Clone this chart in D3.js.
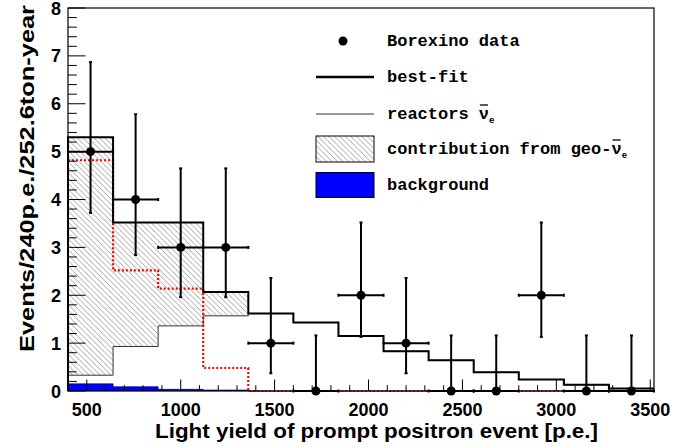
<!DOCTYPE html>
<html>
<head>
<meta charset="utf-8">
<script src="https://cdn.jsdelivr.net/npm/d3@7"></script>
<style>
  html, body { margin: 0; padding: 0; background: #fff; }
  svg { display: block; }
</style>
</head>
<body>
<svg id="chart" width="694" height="447"></svg>
<script>
// ---------------- DATA ----------------
const binEdges = [400, 640, 880, 1120, 1360, 1600, 1840, 2080, 2320, 2560, 2800, 3040, 3280, 3520];
const binCenters = [520, 760, 1000, 1240, 1480, 1720, 1960, 2200, 2440, 2680, 2920, 3160, 3400];
const dataCounts = [5, 4, 3, 3, 1, 0, 2, 1, 0, 0, 2, 0, 0];
const dataErrLow  = [3.72, 2.84, 1.96, 1.96, 0.37, 0, 1.13, 0.37, 0, 0, 1.13, 0, 0];
const dataErrHigh = [6.87, 5.78, 4.65, 4.65, 2.36, 1.16, 3.52, 2.36, 1.16, 1.16, 3.52, 1.16, 1.16];
const bestFit   = [5.30, 3.52, 3.52, 2.07, 1.62, 1.43, 1.15, 0.83, 0.64, 0.39, 0.24, 0.13, 0.05];
const reactors  = [0.33, 0.93, 1.36, 1.57, 1.62, 1.43, 1.15, 0.83, 0.64, 0.39, 0.24, 0.13, 0.05];
const geoOnly   = [4.82, 2.52, 2.14, 0.48, 0, 0, 0, 0, 0, 0, 0, 0, 0];
const background= [0.15, 0.09, 0.035, 0.02, 0, 0, 0, 0, 0, 0, 0, 0, 0];
const geoBins = 4; // hatched contribution spans first 4 bins
const xTicks = [500, 1000, 1500, 2000, 2500, 3000, 3500];
const yTicks = [0, 1, 2, 3, 4, 5, 6, 7, 8];
const legendLabels = ["Borexino data", "best-fit", "reactors ", "contribution from geo-", "background"];
const xTitle = "Light yield of prompt positron event [p.e.]";
const yTitle = "Events/240p.e./252.6ton-year";

// ---------------- SETUP ----------------
const svg = d3.select("#chart");
const L = 68, R = 654, T = 8, B = 391;
const x = d3.scaleLinear().domain([400, 3520]).range([L, R]);
const y = d3.scaleLinear().domain([0, 8]).range([B, T]);
const sansBold = "'Liberation Sans', Arial, Helvetica, sans-serif";
const mono = "'Liberation Mono', 'Courier New', monospace";

const defs = svg.append("defs");
const pat = defs.append("pattern").attr("id", "hatch")
  .attr("patternUnits", "userSpaceOnUse").attr("width", 5.5).attr("height", 5.5);
pat.append("path").attr("d", "M0,0 L5.5,5.5 M-1,4.5 L1,6.5 M4.5,-1 L6.5,1")
  .attr("stroke", "#999").attr("stroke-width", 0.9).attr("fill", "none");

function stepPts(vals) {
  return binEdges.map((e, i) => [e, vals[Math.min(i, vals.length - 1)]]);
}
const stepLine = d3.line().x(d => x(d[0])).y(d => y(d[1])).curve(d3.curveStepAfter);

// ---------------- HATCHED geo contribution ----------------
const geoPts = binEdges.slice(0, geoBins + 1).map((e, i) => ({
  e, lo: reactors[Math.min(i, geoBins - 1)], hi: bestFit[Math.min(i, geoBins - 1)]
}));
svg.append("path")
  .attr("d", d3.area().x(d => x(d.e)).y0(d => y(d.lo)).y1(d => y(d.hi)).curve(d3.curveStepAfter)(geoPts))
  .attr("fill", "url(#hatch)").attr("stroke", "none");

// ---------------- background (blue) ----------------
svg.append("path")
  .attr("d", d3.area().x(d => x(d[0])).y0(y(0)).y1(d => y(d[1])).curve(d3.curveStepAfter)(stepPts(background)))
  .attr("fill", "#0000ff").attr("stroke", "none");
svg.append("path")
  .attr("d", stepLine(stepPts(background)))
  .attr("fill", "none").attr("stroke", "#000").attr("stroke-width", 1).attr("opacity", 0.6);

// ---------------- reactor thin line ----------------
svg.append("path")
  .attr("d", stepLine([[binEdges[0], 0]].concat(stepPts(reactors))))
  .attr("fill", "none").attr("stroke", "#333").attr("stroke-width", 1);

// ---------------- geo red dotted ----------------
svg.append("path")
  .attr("d", stepLine(stepPts(geoOnly)))
  .attr("fill", "none").attr("stroke", "#ff0000").attr("stroke-width", 2.2)
  .attr("stroke-dasharray", "2,2");

// ---------------- best-fit ----------------
svg.append("path")
  .attr("d", stepLine([[binEdges[0], 0]].concat(stepPts(bestFit))))
  .attr("fill", "none").attr("stroke", "#000").attr("stroke-width", 2);

// ---------------- axes ----------------
const ax = svg.append("g").attr("stroke", "#000").attr("stroke-width", 1);
svg.append("rect").attr("x", L).attr("y", T).attr("width", R - L).attr("height", B - T)
  .attr("fill", "none").attr("stroke", "#000").attr("stroke-width", 1.2);
const yMinor = d3.range(0, 8.001, 0.2);
yMinor.forEach(v => {
  const isMajor = Math.abs(v - Math.round(v)) < 1e-6;
  ax.append("line").attr("x1", L).attr("x2", L + (isMajor ? 17.5 : 8.8))
    .attr("y1", y(v)).attr("y2", y(v));
});
const xMinor = d3.range(400, 3521, 100);
xMinor.forEach(v => {
  const isMajor = v % 500 === 0;
  ax.append("line").attr("x1", x(v)).attr("x2", x(v))
    .attr("y1", B).attr("y2", B - (isMajor ? 11.5 : 5.8));
});
svg.append("g").selectAll("text").data(yTicks).join("text")
  .attr("x", 61).attr("y", d => y(d) + 6.5)
  .attr("text-anchor", "end").attr("font-family", sansBold).attr("font-weight", "bold")
  .attr("font-size", 18).text(d => d);
svg.append("g").selectAll("text").data(xTicks).join("text")
  .attr("x", d => x(d)).attr("y", 416)
  .attr("text-anchor", "middle").attr("font-family", sansBold).attr("font-weight", "bold")
  .attr("font-size", 18).text(d => d);
// titles
svg.append("text").attr("x", 155).attr("y", 438).attr("text-anchor", "start")
  .attr("textLength", 443).attr("lengthAdjust", "spacingAndGlyphs")
  .attr("font-family", sansBold).attr("font-weight", "bold").attr("font-size", 20).text(xTitle);
svg.append("text").attr("transform", "translate(34,352) rotate(-90)").attr("text-anchor", "start")
  .attr("textLength", 347).attr("lengthAdjust", "spacingAndGlyphs")
  .attr("font-family", sansBold).attr("font-weight", "bold").attr("font-size", 20).text(yTitle);

// ---------------- data points ----------------
const pts = svg.append("g").attr("stroke", "#000").attr("stroke-width", 2);
binCenters.forEach((c, i) => {
  pts.append("line").attr("x1", x(c)).attr("x2", x(c)).attr("y1", y(dataErrLow[i])).attr("y2", y(dataErrHigh[i]));
  pts.append("line").attr("x1", x(binEdges[i])).attr("x2", x(binEdges[i + 1])).attr("y1", y(dataCounts[i])).attr("y2", y(dataCounts[i]));
  pts.append("line").attr("x1", x(c) - 1.5).attr("x2", x(c) + 1.5).attr("y1", y(dataErrHigh[i])).attr("y2", y(dataErrHigh[i]));
  if (dataErrLow[i] > 0)
    pts.append("line").attr("x1", x(c) - 1.5).attr("x2", x(c) + 1.5).attr("y1", y(dataErrLow[i])).attr("y2", y(dataErrLow[i]));
  pts.append("line").attr("x1", x(binEdges[i])).attr("x2", x(binEdges[i])).attr("y1", y(dataCounts[i]) - 1.5).attr("y2", y(dataCounts[i]) + 1.5);
  pts.append("line").attr("x1", x(binEdges[i + 1])).attr("x2", x(binEdges[i + 1])).attr("y1", y(dataCounts[i]) - 1.5).attr("y2", y(dataCounts[i]) + 1.5);
});
svg.append("g").selectAll("circle").data(binCenters).join("circle")
  .attr("cx", d => x(d)).attr("cy", (d, i) => y(dataCounts[i])).attr("r", 4.5).attr("fill", "#000");

// ---------------- legend ----------------
const lg = svg.append("g");
const rowsY = [41, 77, 114, 149, 185];
const lx0 = 316, lx1 = 374, tx = 387;
lg.append("circle").attr("cx", 343).attr("cy", rowsY[0]).attr("r", 4.5).attr("fill", "#000");
lg.append("line").attr("x1", lx0).attr("x2", lx1).attr("y1", rowsY[1]).attr("y2", rowsY[1]).attr("stroke", "#000").attr("stroke-width", 2.5);
lg.append("line").attr("x1", lx0).attr("x2", lx1).attr("y1", rowsY[2]).attr("y2", rowsY[2]).attr("stroke", "#333").attr("stroke-width", 1);
lg.append("rect").attr("x", lx0).attr("y", rowsY[3] - 13).attr("width", lx1 - lx0).attr("height", 26)
  .attr("fill", "url(#hatch)").attr("stroke", "#000").attr("stroke-width", 1);
lg.append("rect").attr("x", lx0).attr("y", rowsY[4] - 12.5).attr("width", lx1 - lx0).attr("height", 25)
  .attr("fill", "#0000ff").attr("stroke", "#000").attr("stroke-width", 1);
legendLabels.forEach((lab, i) => {
  const t = lg.append("text").attr("x", tx).attr("y", rowsY[i] + 5)
    .attr("font-family", mono).attr("font-weight", "bold").attr("font-size", 17).attr("fill", "#000");
  t.append("tspan").text(lab);
  if (i === 2 || i === 3) {
    t.append("tspan").text("\u03BD");
    t.append("tspan").attr("font-size", 9).attr("dy", 4).text("e");
    // overline above the nu
    const n = t.node();
    const idx = lab.length;
    const s = n.getStartPositionOfChar(idx), e = n.getEndPositionOfChar(idx);
    lg.append("line").attr("x1", s.x + 1).attr("x2", e.x - 1)
      .attr("y1", rowsY[i] - 9).attr("y2", rowsY[i] - 9)
      .attr("stroke", "#000").attr("stroke-width", 1.3);
  }
});
</script>
</body>
</html>
